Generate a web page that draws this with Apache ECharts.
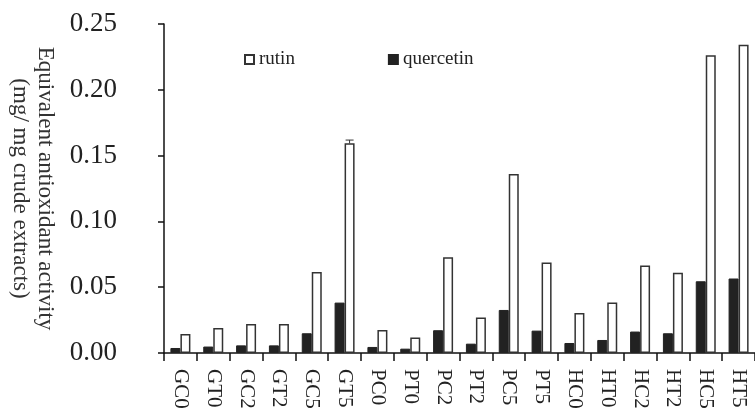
<!DOCTYPE html>
<html>
<head>
<meta charset="utf-8">
<script src="https://cdn.jsdelivr.net/npm/echarts@6/dist/echarts.min.js"></script>
<style>
  html, body { margin: 0; padding: 0; background: #fff; }
  #chart { width: 755px; height: 412px; }
</style>
</head>
<body>
<div id="chart"></div>
<script>
// samples: G/P/H extracts, C/T, 0/2/5
var categories = ['GC0', 'GT0', 'GC2', 'GT2', 'GC5', 'GT5', 'PC0', 'PT0', 'PC2',
                  'PT2', 'PC5', 'PT5', 'HC0', 'HT0', 'HC2', 'HT2', 'HC5', 'HT5'];

var rutin = [0.0145, 0.019, 0.022, 0.022, 0.0616, 0.1593, 0.0175, 0.0117, 0.0728,
             0.027, 0.136, 0.0688, 0.0304, 0.0383, 0.0665, 0.0609, 0.2262, 0.2343];

var quercetin = [0.0038, 0.0049, 0.0058, 0.0058, 0.015, 0.0383, 0.0046, 0.0033, 0.0173,
                 0.0071, 0.0327, 0.017, 0.0076, 0.0099, 0.0163, 0.015, 0.0545, 0.0566];

// only GT5 shows a visible error bar
var rutinErr = [0, 0, 0, 0, 0, 0.0025, 0, 0, 0,
                0, 0, 0, 0, 0, 0, 0, 0, 0];

var yTicks = [0, 0.05, 0.10, 0.15, 0.20, 0.25];

var serif = '"Liberation Serif", "DejaVu Serif", serif';
var barW = 10;

var errData = categories.map(function (c, i) {
    return [i, rutin[i], rutinErr[i]];
});

var option = {
    animation: false,
    grid: {
        left: 155,
        top: 24,
        width: 611,
        height: 329
    },
    legend: {
        left: 239,
        top: 45,
        icon: 'rect',
        itemWidth: 9,
        itemHeight: 9,
        itemGap: 93,
        data: ['rutin', 'quercetin'],
        textStyle: {
            fontFamily: serif,
            fontSize: 19,
            color: '#222'
        }
    },
    xAxis: {
        type: 'category',
        data: categories,
        axisLine: { lineStyle: { color: '#111', width: 1.5 } },
        axisTick: { show: true, length: 8, lineStyle: { color: '#111', width: 1.5 } },
        axisLabel: {
            rotate: -90,
            interval: 0,
            margin: 16,
            fontFamily: serif,
            fontSize: 21,
            color: '#222'
        }
    },
    yAxis: {
        type: 'value',
        min: yTicks[0],
        max: yTicks[yTicks.length - 1],
        interval: 0.05,
        name: 'Equivalent antioxidant activity\n(mg/ mg crude extracts)',
        nameLocation: 'middle',
        nameRotate: -90,
        nameGap: 106,
        nameTextStyle: {
            fontFamily: serif,
            fontSize: 23,
            lineHeight: 25,
            color: '#333'
        },
        splitLine: { show: false },
        axisLine: { show: true, lineStyle: { color: '#111', width: 1.5 } },
        axisTick: { show: true, length: 6, lineStyle: { color: '#111', width: 1.5 } },
        axisLabel: {
            margin: 47,
            fontFamily: serif,
            fontSize: 27,
            color: '#222',
            formatter: function (v) { return v.toFixed(2); }
        }
    },
    series: [
        {
            name: 'quercetin',
            type: 'bar',
            data: quercetin,
            barWidth: barW,
            barGap: '0%',
            itemStyle: { color: '#222', borderColor: '#222', borderWidth: 1 }
        },
        {
            name: 'rutin',
            type: 'bar',
            data: rutin,
            barWidth: barW,
            barGap: '0%',
            itemStyle: { color: '#fff', borderColor: '#333', borderWidth: 1.5 }
        },
        {
            name: 'err',
            type: 'custom',
            data: errData,
            z: 5,
            renderItem: function (params, api) {
                var e = api.value(2);
                if (!e) return null;
                var top = api.coord([api.value(0), api.value(1) + e]);
                var base = api.coord([api.value(0), api.value(1)]);
                var x = top[0] + barW / 2;
                return {
                    type: 'group',
                    children: [
                        { type: 'line', shape: { x1: x, y1: top[1], x2: x, y2: base[1] },
                          style: { stroke: '#333', lineWidth: 1 } },
                        { type: 'line', shape: { x1: x - 4, y1: top[1], x2: x + 4, y2: top[1] },
                          style: { stroke: '#333', lineWidth: 1 } }
                    ]
                };
            }
        }
    ]
};

var myChart = echarts.init(document.getElementById('chart'));
myChart.setOption(option);
</script>
</body>
</html>
